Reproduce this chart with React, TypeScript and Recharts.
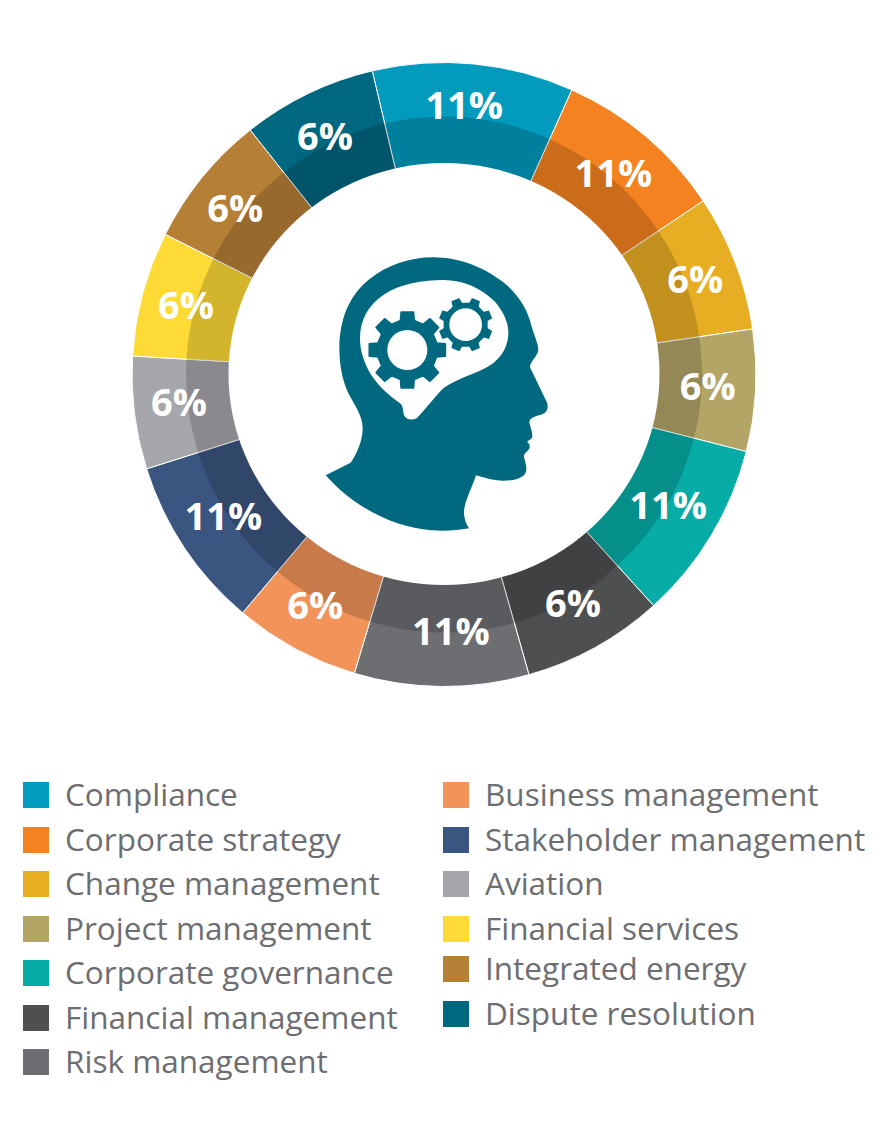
import { PieChart, Pie, Cell } from "recharts";

const categories = [
  "Compliance",
  "Corporate strategy",
  "Change management",
  "Project management",
  "Corporate governance",
  "Financial management",
  "Risk management",
  "Business management",
  "Stakeholder management",
  "Aviation",
  "Financial services",
  "Integrated energy",
  "Dispute resolution",
];
// sweep of each slice (the drawn shares are not the printed ones)
const sweeps = [37.5, 32, 25.4, 22.7, 33.5, 26.4, 32.5, 23.5, 32.2, 21, 23.3, 24.9, 25.1];
const percentLabels = ["11%", "11%", "6%", "6%", "11%", "6%", "11%", "6%", "11%", "6%", "6%", "6%", "6%"];
const colors = [
  "#029BBE", "#F58220", "#E8AE23", "#B2A566", "#07ACA6", "#4E4F51", "#6D6E72",
  "#F2935A", "#3A5680", "#A6A7AB", "#FEDA37", "#B67F36", "#006780",
];
// the labels are hand placed in the original, so they sit a little off the mid angle
const labelNudgeX = [-5, -1, 5, 0, -2, 1, 9, -3, -1, -3, -3, -4, -4];
const labelNudgeY = [-8, -1, -1, -3, -7, -3, -8, -3, -6, -6, -2, -1, -2];

const data = categories.map((name, i) => ({
  name,
  value: sweeps[i],
  label: percentLabels[i],
  nudgeX: labelNudgeX[i],
  nudgeY: labelNudgeY[i],
}));

const FONT = "'Open Sans', sans-serif";
const CX = 444;
const CY = 374.5;
const START = 103.3;
const RAD = Math.PI / 180;

const legendLeft = [0, 1, 2, 3, 4, 5, 6];
const legendLeftY = [795, 840, 884, 929, 973, 1018, 1062];
const legendRight = [7, 8, 9, 10, 11, 12];
const legendRightY = [795, 840, 884, 929, 969, 1014];

const renderLabel = (p: any) => {
  const r = 264;
  const x = p.cx + r * Math.cos(-p.midAngle * RAD) + p.payload.nudgeX;
  const y = p.cy + r * Math.sin(-p.midAngle * RAD) + p.payload.nudgeY;
  return (
    <text x={x} y={y} fill="#fff" textAnchor="middle" dominantBaseline="central"
      style={{ fontFamily: FONT, fontSize: 38, fontWeight: 700 }}>
      {p.payload.label}
    </text>
  );
};

const gearPath = (cx: number, cy: number, body: number, tip: number, offset: number) => {
  const pts: string[] = [];
  for (let i = 0; i < 8; i++) {
    const a = offset + i * 45;
    const pt = (deg: number, r: number) =>
      `${(cx + r * Math.sin(deg * RAD)).toFixed(1)} ${(cy - r * Math.cos(deg * RAD)).toFixed(1)}`;
    pts.push(`${i === 0 ? "M" : "L"}${pt(a - 13, body)}`);
    pts.push(`L${pt(a - 9, tip)}`);
    pts.push(`L${pt(a + 9, tip)}`);
    pts.push(`L${pt(a + 13, body)}`);
    pts.push(`L${pt(a + 32, body)}`);
  }
  return pts.join(" ") + " Z";
};

const HEAD =
  "M77 706 L152 668 C172 640 188 600 188 565 C188 525 160 490 145 460 C125 415 118 370 118 320 C120 240 145 170 205 120 C260 75 330 52 400 52 C480 52 560 85 620 135 C660 170 685 215 695 260 C702 285 715 310 715 330 C712 350 690 365 690 382 L740 485 C748 505 740 520 720 525 C705 528 690 535 688 545 C690 560 698 575 697 590 C695 600 682 600 682 606 C690 612 692 622 685 630 C680 637 672 640 672 650 C675 665 682 680 678 695 C672 715 640 722 610 722 C580 722 550 712 528 706 C518 740 490 790 492 820 C493 840 500 855 507 865 C470 872 430 874 395 871 C280 862 160 800 77 706 Z";
const BRAIN =
  "M180 295 C180 240 205 195 250 165 C300 130 370 120 430 120 C490 120 545 145 585 185 C610 215 628 250 625 285 C622 330 595 365 555 385 C515 405 465 420 430 445 C405 470 375 510 350 535 C335 542 318 540 312 525 C308 510 310 498 300 490 C265 465 230 435 205 390 C190 360 180 330 180 295 Z";

const Head = () => (
  <g transform="translate(300 240) scale(0.3333)">
    <path d={HEAD} fill="#006980" />
    <path d={BRAIN} fill="#fff" />
    <path d={gearPath(322, 330, 90, 115, 0)} fill="#006980" stroke="#006980" strokeWidth={6} strokeLinejoin="round" />
    <circle cx={322} cy={330} r={60} fill="#fff" />
    <path d={gearPath(497, 254, 67, 82, 22.5)} fill="#006980" stroke="#fff" strokeWidth={10} paintOrder="stroke" strokeLinejoin="round" />
    <circle cx={497} cy={254} r={49} fill="#fff" />
  </g>
);

const LegendRow = ({ idx, x, y }: { idx: number; x: number; y: number }) => (
  <div style={{ position: "absolute", left: x, top: y - 25, height: 50, whiteSpace: "nowrap" }}>
    <div style={{ position: "absolute", left: 0, top: 12, width: 26, height: 26, background: colors[idx] }} />
    <div style={{ position: "absolute", left: 42, top: -1, lineHeight: "50px", fontFamily: FONT, fontSize: 31.5, color: "#6D6E71" }}>
      {categories[idx]}
    </div>
  </div>
);

export default function App() {
  return (
    <div style={{ position: "absolute", left: 0, top: 0, width: 889, height: 1148, background: "#fff" }}>
      <PieChart width={889} height={740} margin={{ top: 0, right: 0, bottom: 0, left: 0 }}>
        <Pie data={data} dataKey="value" cx={CX} cy={CY} innerRadius={190} outerRadius={312}
          startAngle={START} endAngle={START - 360} stroke="#fff" strokeWidth={1} isAnimationActive={false} label={false}>
          {data.map((d, i) => <Cell key={d.name} fill={colors[i]} />)}
        </Pie>
        <Pie data={data} dataKey="value" cx={CX} cy={CY} innerRadius={190} outerRadius={258}
          startAngle={START} endAngle={START - 360} fill="#000" fillOpacity={0.17} stroke="none"
          isAnimationActive={false} label={renderLabel} labelLine={false} />
      </PieChart>
      {/* pies paint over anything inside the chart, so the hole and the head go on top. The hole is very slightly oval in the original */}
      <svg width={889} height={740} style={{ position: "absolute", left: 0, top: 0 }}>
        <ellipse cx={444} cy={374} rx={215.5} ry={211} fill="#fff" />
        <Head />
      </svg>
      {legendLeft.map((idx, i) => <LegendRow key={idx} idx={idx} x={23} y={legendLeftY[i]} />)}
      {legendRight.map((idx, i) => <LegendRow key={idx} idx={idx} x={443} y={legendRightY[i]} />)}
    </div>
  );
}
